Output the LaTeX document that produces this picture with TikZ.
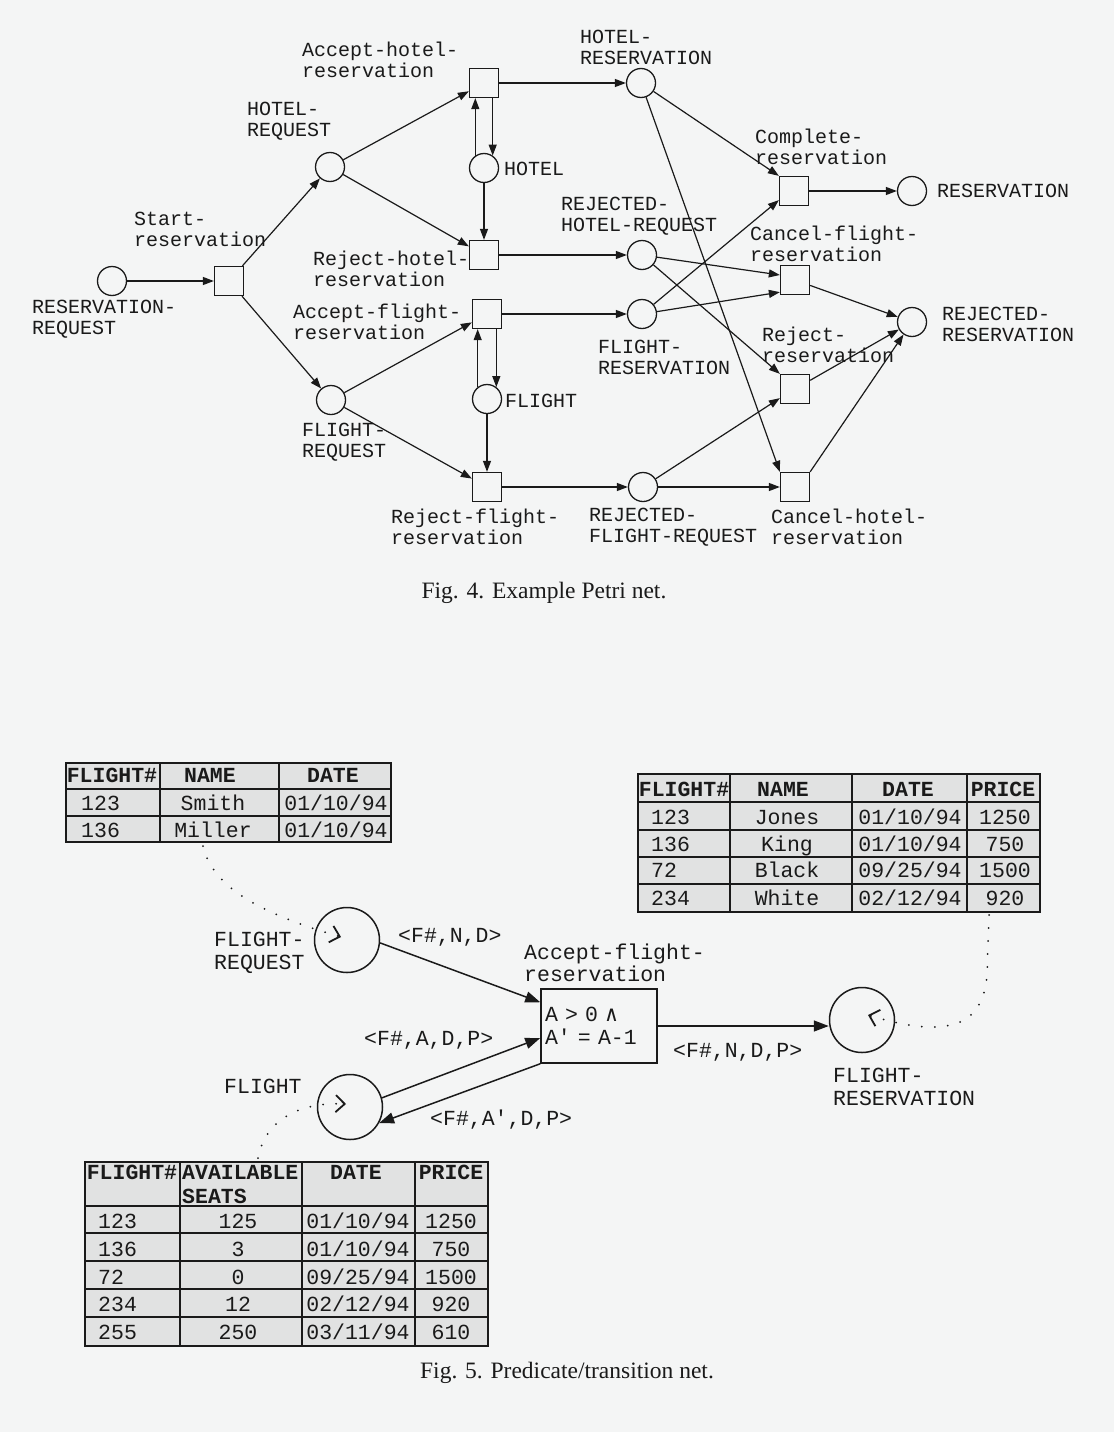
\documentclass[tikz,border=0pt]{standalone}
\usepackage{fontspec}
\setmonofont{Liberation Mono}
\newfontfamily\capfont{Liberation Serif}
\newfontfamily\symfont{DejaVu Sans Mono}
\usetikzlibrary{arrows.meta}
\definecolor{ink}{HTML}{1A1A1A}
\definecolor{paper}{HTML}{F4F5F5}
\definecolor{cellgray}{HTML}{E1E2E2}
\newcommand{\netfont}{\ttfamily\fontsize{20}{21}\selectfont}
\newcommand{\predfont}{\ttfamily\fontsize{21.5}{22.5}\selectfont}
\newcommand{\headfont}{\ttfamily\bfseries\fontsize{21.5}{22.5}\selectfont}
\tikzset{place/.style={circle,draw=ink,line width=1.3pt,minimum size=29pt,inner sep=0pt},transition/.style={rectangle,draw=ink,line width=1.3pt,minimum size=29pt,inner sep=0pt},netarc/.style={-{Triangle[length=11pt,width=8pt]},line width=1.2pt,draw=ink},netlabel/.style={font=\netfont,text=ink,align=left,anchor=west,inner sep=0pt},bigplace/.style={place,line width=1.5pt,minimum size=65pt},guardbox/.style={rectangle,draw=ink,line width=1.5pt,text width=108pt,inner xsep=4pt,minimum height=74pt,align=left,font=\predfont,text=ink},predarc/.style={-{Triangle[length=15pt,width=11pt]},line width=1.5pt,draw=ink},predlabel/.style={netlabel,font=\predfont},relink/.style={draw=ink,line width=2pt,dash pattern=on 0pt off 13pt,line cap=round,-{Straight Barb[length=9pt,width=17pt,line width=1.8pt]}},tabline/.style={draw=ink,line width=1.8pt},tabtext/.style={font=\predfont,text=ink,anchor=base,inner sep=0pt},tabhead/.style={tabtext,font=\headfont},caption/.style={font=\capfont\fontsize{23.5}{26}\selectfont,text=ink,anchor=base,inner sep=0pt}}
\begin{document}
\begin{tikzpicture}[x=1pt,y=-1pt]
\useasboundingbox (0,0) rectangle (1114,1432);
\fill[paper] (0,0) rectangle (1114,1432);
% Fig. 4
\node[place] (resreq) at (112,281) {};
\node[transition] (startr) at (229,281) {};
\node[place] (hotreq) at (330,167) {};
\node[place] (fltreq) at (331,400) {};
\node[transition] (acchot) at (484,83) {};
\node[place] (hotel) at (484,168) {};
\node[transition] (rejhot) at (484,255) {};
\node[transition] (accflt) at (487,314) {};
\node[place] (flight) at (487,399) {};
\node[transition] (rejflt) at (487,487) {};
\node[place] (hotres) at (641,83) {};
\node[place] (rhreq) at (642,255) {};
\node[place] (fltres) at (642,314) {};
\node[place] (rfreq) at (643,487) {};
\node[transition] (complete) at (794,191) {};
\node[transition] (canflt) at (795,280) {};
\node[transition] (rejres) at (795,389) {};
\node[transition] (canhot) at (795,487) {};
\node[place] (resv) at (912,191) {};
\node[place] (rjres) at (912,322) {};
\draw[netarc] (resreq)--(startr);\draw[netarc] (startr)--(hotreq);\draw[netarc] (startr)--(fltreq);
\draw[netarc] (hotreq)--(acchot);\draw[netarc] (hotreq)--(rejhot);
\draw[netarc] (hotel.125)--(hotel.125 |- acchot.south);\draw[netarc] (acchot.south -| hotel.55)--(hotel.55);\draw[netarc] (hotel)--(rejhot);
\draw[netarc] (fltreq)--(accflt);\draw[netarc] (fltreq)--(rejflt);
\draw[netarc] (flight.128)--(flight.128 |- accflt.south);\draw[netarc] (accflt.south -| flight.52)--(flight.52);\draw[netarc] (flight)--(rejflt);
\draw[netarc] (acchot)--(hotres);\draw[netarc] (rejhot)--(rhreq);\draw[netarc] (accflt)--(fltres);\draw[netarc] (rejflt)--(rfreq);
\draw[netarc] (hotres)--(complete.north west);\draw[netarc] (hotres)--(canhot.north west);
\draw[netarc] (fltres)--([yshift=6pt]complete.south west);\draw[netarc] (fltres)--([yshift=3pt]canflt.south west);
\draw[netarc] (rhreq)--([yshift=5pt]canflt.west);\draw[netarc] (rhreq)--(rejres.north west);
\draw[netarc] (rfreq)--([yshift=6pt]rejres.south west);\draw[netarc] (rfreq)--(canhot);
\draw[netarc] (complete)--(resv);\draw[netarc] (canflt)--(rjres);\draw[netarc] (rejres)--(rjres);\draw[netarc] (canhot.north east)--(rjres);
\node[netlabel] (l-acchot) at (302,60) {Accept-hotel-\\reservation};
\node[netlabel] (l-hotreq) at (247,121) {HOTEL-\\REQUEST};
\node[netlabel] (l-hotres) at (580,47) {HOTEL-\\RESERVATION};
\node[netlabel] (l-hotel) at (504,169) {HOTEL};
\node[netlabel] (l-complete) at (755,147) {Complete-\\reservation};
\node[netlabel] (l-resv) at (937,191) {RESERVATION};
\node[netlabel] (l-startr) at (134,229) {Start-\\reservation};
\node[netlabel] (l-rhreq) at (561,216) {REJECTED-\\HOTEL-REQUEST};
\node[netlabel] (l-canflt) at (750,244) {Cancel-flight-\\reservation};
\node[netlabel] (l-rejhot) at (313,269) {Reject-hotel-\\reservation};
\node[netlabel] (l-resreq) at (32,319) {RESERVATION-\\REQUEST};
\node[netlabel] (l-accflt) at (293,322) {Accept-flight-\\reservation};
\node[netlabel] (l-rjres) at (942,324) {REJECTED-\\RESERVATION};
\node[netlabel] (l-fltres) at (598,357) {FLIGHT-\\RESERVATION};
\node[netlabel] (l-rejres) at (762,345) {Reject-\\reservation};
\node[netlabel] (l-flight) at (505,401) {FLIGHT};
\node[netlabel] (l-fltreq) at (302,442) {FLIGHT-\\REQUEST};
\node[netlabel] (l-rejflt) at (391,527) {Reject-flight-\\reservation};
\node[netlabel] (l-rfreq) at (589,527) {REJECTED-\\FLIGHT-REQUEST};
\node[netlabel] (l-canhot) at (771,527) {Cancel-hotel-\\reservation};
\node[caption] (cap4) at (544,598) {Fig. 4. Example Petri net.};
% Fig. 5
\fill[cellgray] (66,763) rectangle (391,842);\draw[tabline] (66,763) rectangle (391,842);
\foreach \x in {160,279} \draw[tabline] (\x,763)--(\x,842);
\foreach \y in {789,816} \draw[tabline] (66,\y)--(391,\y);
\node[tabhead] (t1-h1) at (112,782) {FLIGHT\#};\node[tabhead] (t1-h2) at (210,782) {NAME};\node[tabhead] (t1-h3) at (333,782) {DATE};
\foreach \no/\nm/\dt/\yb [count=\r] in {123/Smith/{01/10/94}/810,136/Miller/{01/10/94}/837}{
\node[tabtext,anchor=base west] (t1-\r-1) at (81,\yb) {\no};\node[tabtext] (t1-\r-2) at (213,\yb) {\nm};\node[tabtext] (t1-\r-3) at (336,\yb) {\dt};}
\fill[cellgray] (638,774) rectangle (1040,912);\draw[tabline] (638,774) rectangle (1040,912);
\foreach \x in {730,852,967} \draw[tabline] (\x,774)--(\x,912);
\foreach \y in {802,830,857,884} \draw[tabline] (638,\y)--(1040,\y);
\node[tabhead] (t2-h1) at (684,796) {FLIGHT\#};\node[tabhead] (t2-h2) at (783,796) {NAME};\node[tabhead] (t2-h3) at (908,796) {DATE};\node[tabhead] (t2-h4) at (1003,796) {PRICE};
\foreach \no/\nm/\dt/\pr/\yb [count=\r] in {123/Jones/{01/10/94}/1250/824,136/King/{01/10/94}/750/851,72/Black/{09/25/94}/1500/877,234/White/{02/12/94}/920/905}{
\node[tabtext,anchor=base west] (t2-\r-1) at (651,\yb) {\no};\node[tabtext] (t2-\r-2) at (787,\yb) {\nm};\node[tabtext] (t2-\r-3) at (910,\yb) {\dt};\node[tabtext] (t2-\r-4) at (1005,\yb) {\pr};}
\fill[cellgray] (85,1162) rectangle (488,1346);\draw[tabline] (85,1162) rectangle (488,1346);
\foreach \x in {180,302,415} \draw[tabline] (\x,1162)--(\x,1346);
\foreach \y in {1206,1233,1261,1289,1317} \draw[tabline] (85,\y)--(488,\y);
\node[tabhead] (t3-h1) at (132,1179) {FLIGHT\#};\node[tabhead,anchor=base west] (t3-h2) at (182,1179) {AVAILABLE};\node[tabhead,anchor=base west] (t3-h2b) at (182,1203) {SEATS};
\node[tabhead] (t3-h3) at (356,1179) {DATE};\node[tabhead] (t3-h4) at (451,1179) {PRICE};
\foreach \no/\st/\dt/\pr/\yb [count=\r] in {123/125/{01/10/94}/1250/1228,136/3/{01/10/94}/750/1256,72/0/{09/25/94}/1500/1284,234/12/{02/12/94}/920/1311,255/250/{03/11/94}/610/1339}{
\node[tabtext,anchor=base west] (t3-\r-1) at (98,\yb) {\no};\node[tabtext] (t3-\r-2) at (238,\yb) {\st};\node[tabtext] (t3-\r-3) at (358,\yb) {\dt};\node[tabtext] (t3-\r-4) at (451,\yb) {\pr};}
\node[bigplace] (preq) at (347,940) {};
\node[bigplace] (pflight) at (350,1107) {};
\node[bigplace] (pres) at (862,1020) {};
\node[guardbox] (taccept) at (599,1026) {A > 0 {\symfont ∧}\\A' = A-1};
\draw[predarc] (preq.-5)--([yshift=-14pt]taccept.north west);
\draw[predarc] (pflight.16)--([yshift=-12pt]taccept.west);
\draw[predarc] (taccept.south west)--(pflight.-29);
\draw[predarc] (taccept)--(taccept -| pres.west);
\coordinate (t1-foot) at (203,846);\coordinate (preq-mark) at (341,937);
\coordinate (t3-top) at (258,1158);\coordinate (pflight-mark) at (346,1104);
\coordinate (t2-foot) at (989,915);\coordinate (pres-mark) at (868,1015);
\draw[relink] (t1-foot) .. controls (212,885) and (255,912) .. (preq-mark);
\draw[relink] (t3-top) .. controls (264,1125) and (292,1102) .. (pflight-mark);
\draw[relink] (t2-foot)--(987,975) .. controls (983,1025) and (950,1040) .. (pres-mark);
\node[predlabel] (l-preq) at (214,953) {FLIGHT-\\REQUEST};
\node[predlabel] (l-pflight) at (224,1086) {FLIGHT};
\node[predlabel] (l-pres) at (833,1087) {FLIGHT-\\RESERVATION};
\node[predlabel] (l-taccept) at (524,963) {Accept-flight-\\reservation};
\node[predlabel] (l-fnd) at (398,937) {<F\#,N,D>};
\node[predlabel] (l-fadp) at (364,1040) {<F\#,A,D,P>};
\node[predlabel] (l-fa2dp) at (430,1120) {<F\#,A',D,P>};
\node[predlabel] (l-fndp) at (673,1052) {<F\#,N,D,P>};
\node[caption] (cap5) at (567,1378) {Fig. 5. Predicate/transition net.};
\end{tikzpicture}
\end{document}
